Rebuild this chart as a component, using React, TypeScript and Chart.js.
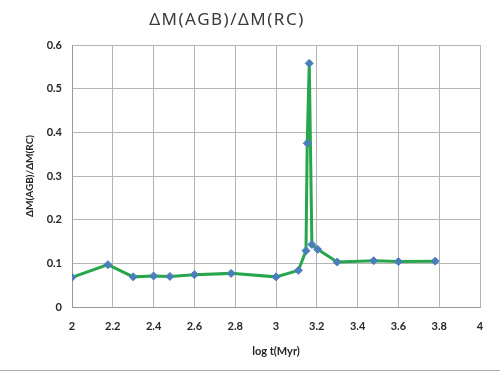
import React, { useEffect, useRef } from "react";
import { Chart, registerables } from "chart.js";

Chart.register(...registerables);

const logT = [2.0, 2.176, 2.30, 2.40, 2.48, 2.60, 2.78, 3.0, 3.11, 3.147, 3.153, 3.163, 3.176, 3.204, 3.30, 3.479, 3.60, 3.78];
const ratio = [0.068, 0.097, 0.069, 0.071, 0.070, 0.074, 0.077, 0.069, 0.084, 0.129, 0.375, 0.558, 0.143, 0.132, 0.103, 0.106, 0.104, 0.105];
const titleText = "ΔM(AGB)/ΔM(RC)";
const yTitle = "ΔM(AGB)/ΔM(RC)";
const xTitle = "log t(Myr)";

const textColor = "#262626";
const gridColor = "#b4b4b4";

const framePlugin = {
  id: "frame",
  afterDraw(chart: any) {
    const ctx = chart.ctx;
    ctx.save();
    ctx.font = "17px 'Noto Sans', sans-serif";
    (ctx as any).letterSpacing = "1.5px";
    ctx.fillStyle = "#3a3a3a";
    ctx.textAlign = "center";
    ctx.textBaseline = "middle";
    ctx.fillText(titleText, 227, 20);
    (ctx as any).letterSpacing = "0px";
    ctx.strokeStyle = "#b0b0b0";
    ctx.lineWidth = 1;
    ctx.beginPath();
    ctx.moveTo(0, 370.5);
    ctx.lineTo(500, 370.5);
    ctx.stroke();
    ctx.restore();
  },
};

export default function App() {
  const ref = useRef<HTMLCanvasElement | null>(null);
  useEffect(() => {
    document.body.style.margin = "0";
    if (!ref.current) return;
    const chart = new Chart(ref.current, {
      type: "scatter",
      data: {
        datasets: [
          {
            data: logT.map((x, i) => ({ x, y: ratio[i] })),
            showLine: true,
            borderColor: "#27a74b",
            borderWidth: 3,
            tension: 0,
            pointStyle: "rectRot",
            pointRadius: 4,
            pointBackgroundColor: "#4a7ebb",
            pointBorderColor: "#4a7ebb",
            pointBorderWidth: 1,
          },
        ],
      },
      plugins: [framePlugin],
      options: {
        animation: false,
        responsive: false,
        events: [],
        layout: { padding: { top: 45, right: 20, left: 0, bottom: 0 } },
        plugins: { legend: { display: false }, tooltip: { enabled: false }, title: { display: false } },
        scales: {
          x: {
            type: "linear",
            min: 2,
            max: 4,
            afterFit: (s: any) => {
              s.height = 65;
            },
            ticks: {
              stepSize: 0.2,
              padding: 13,
              color: textColor,
              font: { family: "Lato", weight: "bold", size: 11 },
              callback: (v: any) => String(Math.round(Number(v) * 10) / 10),
            },
            grid: { color: gridColor, drawTicks: false },
            border: { color: "#9a9a9a" },
            title: {
              display: true,
              text: xTitle,
              color: textColor,
              font: { family: "Lato", weight: "bold", size: 11 },
              padding: { top: 0, bottom: 14 },
            },
          },
          y: {
            type: "linear",
            min: 0,
            max: 0.6,
            afterFit: (s: any) => {
              s.width = 72;
            },
            ticks: {
              stepSize: 0.1,
              padding: 10,
              color: textColor,
              font: { family: "Lato", weight: "bold", size: 11 },
              callback: (v: any) => String(Math.round(Number(v) * 10) / 10),
            },
            grid: { color: gridColor, drawTicks: false },
            border: { color: "#9a9a9a" },
            title: {
              display: true,
              text: yTitle,
              color: textColor,
              font: { family: "Lato", weight: "bold", size: 10 },
              padding: { top: 24, bottom: 0 },
            },
          },
        },
      },
    });
    return () => chart.destroy();
  }, []);
  return (
    <div style={{ position: "absolute", left: 0, top: 0, width: 500, height: 372, background: "#fff" }}>
      <canvas ref={ref} width={500} height={372} style={{ display: "block" }} />
    </div>
  );
}
